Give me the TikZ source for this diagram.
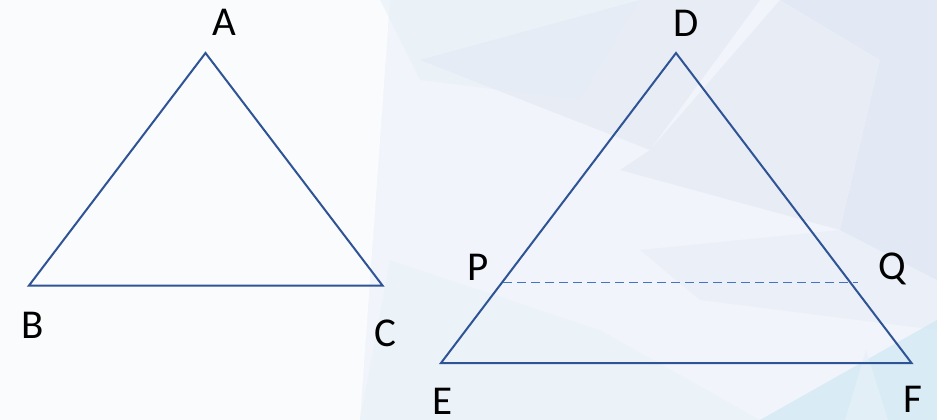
\documentclass[tikz,border=0pt]{standalone}
\usepackage{fontspec}
\setmainfont{Carlito}
\definecolor{bgbase}{HTML}{F1F4FA}
\definecolor{bgwhite}{HTML}{FAFBFD}
\definecolor{bgblue}{HTML}{D9E1F0}
\definecolor{bgblue2}{HTML}{E3E8F3}
\definecolor{bgcyan}{HTML}{CFE8F4}
\definecolor{bgcyan2}{HTML}{E6F1F8}
\definecolor{edgeblue}{HTML}{2F5496}
\definecolor{dashblue}{HTML}{4472C4}
\tikzset{
  edge/.style={draw=edgeblue, line width=2pt, line join=miter},
  parallel/.style={draw=dashblue, line width=1.4pt, dash pattern=on 8.5pt off 5.5pt},
  vlabel/.style={font=\fontsize{41}{41}\selectfont, text=black, anchor=base, inner sep=0pt}
}
\begin{document}
\begin{tikzpicture}[x=1pt,y=-1pt]
\useasboundingbox (0,0) rectangle (937,420);
% background
\fill[bgbase] (0,0) rectangle (937,420);
\fill[bgwhite] (0,0) -- (390,0) -- (360,420) -- (0,420) -- cycle;
\fill[bgcyan2, opacity=0.6] (380,0) -- (640,0) -- (580,100) -- (420,80) -- cycle;
\fill[bgblue2, opacity=0.6] (420,60) -- (640,0) -- (760,0) -- (650,150) -- cycle;
\fill[bgblue, opacity=0.6] (780,0) -- (937,0) -- (937,280) -- (840,230) -- (880,60) -- cycle;
\fill[bgblue2, opacity=0.6] (650,150) -- (780,0) -- (880,60) -- (840,230) -- (620,170) -- cycle;
\fill[bgblue2, opacity=0.4] (640,250) -- (840,230) -- (937,280) -- (937,330) -- (700,300) -- cycle;
\fill[bgcyan2, opacity=0.5] (360,420) -- (390,260) -- (600,330) -- (760,420) -- cycle;
\fill[bgcyan, opacity=0.7] (760,420) -- (937,320) -- (937,420) -- cycle;
\fill[bgcyan2, opacity=0.7] (845,420) -- (866,350) -- (888,420) -- cycle;
% points
\coordinate (A) at (205.5,53);
\coordinate (B) at (29,285.5);
\coordinate (C) at (382.5,285.5);
\coordinate (D) at (676,53);
\coordinate (E) at (441,363);
\coordinate (F) at (911.5,363);
\coordinate (P) at (503,282.5);
\coordinate (Q) at (858,282.5);
% triangles
\draw[edge] (A) -- (B) -- (C) -- cycle;
\draw[edge] (D) -- (E) -- (F) -- cycle;
\draw[parallel] (P) -- (Q);
% labels
\node[vlabel] (lA) at (224,36) {A};
\node[vlabel] (lB) at (32.5,338) {B};
\node[vlabel] (lC) at (385,346) {C};
\node[vlabel] (lD) at (686,37) {D};
\node[vlabel] (lP) at (478,280) {P};
\node[vlabel] (lQ) at (892,279) {Q};
\node[vlabel] (lE) at (443,414) {E};
\node[vlabel] (lF) at (913,412) {F};
\end{tikzpicture}
\end{document}
